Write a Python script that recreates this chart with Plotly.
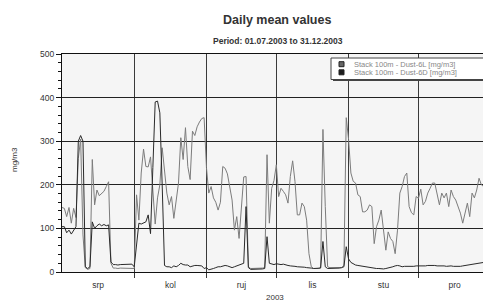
import numpy as np
import plotly.graph_objects as go

# ---------------- data (daily means, 01.07.2003 - 31.12.2003) ----------------
months = ["srp", "kol", "ruj", "lis", "stu", "pro"]
month_days = [31, 31, 30, 31, 30, 31]

dust6L_jul = [148, 146, 127, 148, 112, 146, 125, 260, 305, 85, 10, 6, 8, 258, 154, 188,
              175, 181, 185, 196, 207, 20, 9, 9, 8, 9, 9, 8, 9, 9, 9]
dust6L_aug = [8, 177, 119, 227, 282, 242, 241, 264, 188, 110, 170, 200, 285, 230, 181, 154,
              173, 123, 158, 204, 308, 258, 331, 242, 212, 323, 313, 333, 344, 352, 354]
dust6L_sep = [240, 181, 196, 170, 160, 142, 160, 242, 238, 225, 195, 165, 96, 127, 77, 150,
              218, 219, 12, 8, 8, 8, 8, 8, 9, 10, 269, 112, 192, 210]
dust6L_oct = [246, 173, 192, 185, 177, 158, 219, 255, 208, 131, 131, 158, 150, 119, 42, 12,
              8, 8, 8, 10, 327, 150, 12, 10, 10, 10, 10, 10, 10, 15, 354]
dust6L_nov = [304, 227, 208, 204, 177, 173, 138, 138, 142, 154, 150, 65, 104, 119, 142, 90,
              50, 92, 77, 70, 42, 96, 181, 196, 219, 227, 150, 136, 131, 173]
dust6L_dec = [169, 190, 154, 162, 181, 192, 204, 204, 175, 154, 181, 170, 181, 150, 188, 173,
              165, 150, 135, 112, 135, 158, 127, 181, 170, 188, 215, 200, 196, 212, 200]

dust6D_jul = [104, 104, 90, 96, 87, 96, 104, 300, 313, 300, 12, 8, 12, 115, 100, 106,
              110, 106, 109, 106, 108, 23, 17, 17, 16, 17, 17, 17, 17, 17, 18]
dust6D_aug = [12, 60, 112, 110, 112, 115, 131, 88, 240, 390, 392, 365, 200, 15, 12, 12,
              10, 14, 12, 15, 20, 17, 16, 16, 12, 14, 15, 15, 15, 14, 8]
dust6D_sep = [10, 5, 6, 8, 10, 12, 12, 14, 15, 14, 12, 10, 12, 14, 15, 18,
              20, 150, 10, 6, 6, 6, 6, 6, 7, 8, 81, 20, 18, 17]
dust6D_oct = [19, 18, 17, 18, 16, 15, 14, 14, 13, 12, 12, 12, 11, 10, 10, 9,
              8, 8, 8, 9, 70, 12, 8, 8, 9, 8, 9, 9, 10, 12, 58]
dust6D_nov = [30, 22, 18, 16, 15, 14, 13, 12, 11, 10, 10, 9, 8, 8, 7, 7,
              8, 9, 10, 12, 14, 15, 14, 12, 13, 13, 12, 13, 13, 14]
dust6D_dec = [14, 14, 13, 14, 15, 15, 16, 15, 14, 14, 15, 14, 13, 14, 14, 13,
              13, 12, 13, 14, 15, 16, 17, 18, 19, 20, 20, 21, 22, 22, 23]

y_ticks = [0, 100, 200, 300, 400, 500]
series_names = ["Stack 100m - Dust-6L [mg/m3]", "Stack 100m - Dust-6D [mg/m3]"]

dust6L = dust6L_jul + dust6L_aug + dust6L_sep + dust6L_oct + dust6L_nov + dust6L_dec
dust6D = dust6D_jul + dust6D_aug + dust6D_sep + dust6D_oct + dust6D_nov + dust6D_dec
days = np.arange(len(dust6L))  # day index, 0 = 01.07.2003

month_starts = [int(v) for v in np.cumsum([0] + month_days[:-1])]
month_mids = [s + d / 2 for s, d in zip(month_starts, month_days)]

# ---------------- layout geometry (pixels) ----------------
W, H = 483, 304
L, R, T, B = 62, 0, 54, 32
pw, ph = W - L - R, H - T - B


def px(x):
    return (x - L) / pw


def py(y):
    return (H - B - y) / ph


fig = go.Figure()
fig.add_trace(go.Scatter(x=days, y=dust6L, mode="lines", name=series_names[0],
                         line=dict(color="#7c7c7c", width=1), showlegend=False))
fig.add_trace(go.Scatter(x=days, y=dust6D, mode="lines", name=series_names[1],
                         line=dict(color="#2a2a2a", width=1), showlegend=False))

font_family = "Liberation Sans, Arial, sans-serif"

fig.update_layout(
    width=W, height=H,
    margin=dict(l=L, r=R, t=T, b=B, pad=0),
    paper_bgcolor="white",
    plot_bgcolor="#f5f5f5",
    font=dict(family=font_family, size=8, color="#333"),
    showlegend=False,
    xaxis=dict(
        range=[0, 180.7],
        tickmode="array", tickvals=month_mids, ticktext=months,
        ticks="", showgrid=False, zeroline=False,
        showline=True, linecolor="#111", linewidth=1, mirror=True,
        tickfont=dict(size=8.5, color="#333"),
        ticklabelstandoff=5,
        automargin=False,
        minor=dict(tickmode="array", tickvals=month_starts[1:], showgrid=True,
                   gridcolor="#3a3a3a", gridwidth=1, ticks="outside", ticklen=5,
                   tickcolor="#3a3a3a", tickwidth=1),
    ),
    yaxis=dict(
        range=[0, 500],
        tickmode="array", tickvals=y_ticks,
        ticks="outside", ticklen=5, tickcolor="#111", tickwidth=1,
        showgrid=True, gridcolor="#222", gridwidth=1, zeroline=False,
        showline=True, linecolor="#111", linewidth=1,
        tickfont=dict(size=8.5, color="#333"),
        automargin=False,
        minor=dict(dtick=20, ticks="outside", ticklen=3, tickcolor="#111", showgrid=False),
    ),
)

# titles and axis labels
fig.add_annotation(text="<b>Daily mean values</b>", x=px(277), y=py(20), xref="paper", yref="paper",
                   showarrow=False, font=dict(size=12.5, color="#333"), xanchor="center", yanchor="middle")
fig.add_annotation(text="<b>Period: 01.07.2003 to 31.12.2003</b>", x=px(278), y=py(41),
                   xref="paper", yref="paper", showarrow=False, font=dict(size=8.5, color="#333"),
                   xanchor="center", yanchor="middle")
fig.add_annotation(text="mg/m3", x=px(14), y=py(160), xref="paper", yref="paper", textangle=-90,
                   showarrow=False, font=dict(size=8, color="#333"), xanchor="center", yanchor="middle")
fig.add_annotation(text="2003", x=px(275), y=py(297), xref="paper", yref="paper",
                   showarrow=False, font=dict(size=8, color="#333"), xanchor="center", yanchor="middle")

# legend box (manual, with shadow)
fig.add_shape(type="rect", xref="paper", yref="paper", x0=px(333), x1=px(492), y0=py(60), y1=py(81),
              fillcolor="#444", line=dict(width=0), layer="above")
fig.add_shape(type="rect", xref="paper", yref="paper", x0=px(331), x1=px(490), y0=py(58), y1=py(79.5),
              fillcolor="white", line=dict(color="#444", width=1), layer="above")
legend_colors = ["#666", "#1e1e1e"]
legend_ys = [64.2, 72.3]
for name, col, ly in zip(series_names, legend_colors, legend_ys):
    fig.add_shape(type="rect", xref="paper", yref="paper", x0=px(339), x1=px(344),
                  y0=py(ly - 2.5), y1=py(ly + 2.5), fillcolor=col, line=dict(color="#222", width=1),
                  layer="above")
    fig.add_annotation(text=name, x=px(352), y=py(ly), xref="paper", yref="paper", showarrow=False,
                       font=dict(size=7.5, color="#888"), xanchor="left", yanchor="middle")

fig.write_html("out.html", config={"displayModeBar": False},
               post_script="document.body.style.margin='0';document.body.style.padding='0';")
